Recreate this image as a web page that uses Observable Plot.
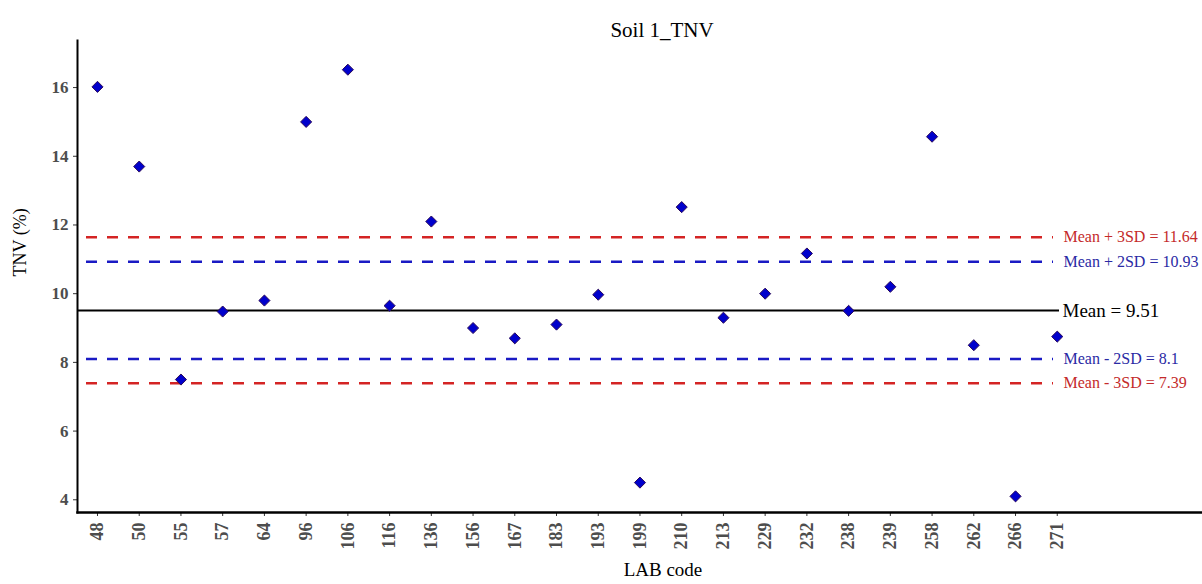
<!DOCTYPE html>
<html><head><meta charset="utf-8">
<script src="https://cdn.jsdelivr.net/npm/d3@7"></script>
<script src="https://cdn.jsdelivr.net/npm/@observablehq/plot@0.6"></script>
<style>body{margin:0;background:#fff;} svg{display:block}</style>
</head><body><div id="chart"></div>
<script>
const labCodes = ["48","50","55","57","64","96","106","116","136","156","167","183","193","199","210","213","229","232","238","239","258","262","266","271"];
const tnvValues = [16.02,13.7,7.5,9.48,9.8,15.0,16.52,9.65,12.1,9.0,8.7,9.1,9.97,4.5,12.52,9.3,10.0,11.17,9.5,10.2,14.57,8.5,4.1,8.75];
const refNames = ["Mean + 3SD = 11.64","Mean + 2SD = 10.93","Mean = 9.51","Mean - 2SD = 8.1","Mean - 3SD = 7.39"];
const refValues = [11.64,10.93,9.51,8.1,7.39];
const refKinds = ["3sd","2sd","mean","2sd","3sd"];
const yTicks = [4,6,8,10,12,14,16];
const titleText = "Soil 1_TNV";
const xLabel = "LAB code";
const yLabel = "TNV (%)";

const points = labCodes.map((c, i) => ({code: c, value: tnvValues[i]}));
const refs = refNames.map((n, i) => ({name: n, value: refValues[i], kind: refKinds[i]}));
const lineColor = {"3sd": "#d42424", "2sd": "#1a1ac4", "mean": "#000000"};
const textColor = {"3sd": "#c42a2a", "2sd": "#2a2aa4", "mean": "#000000"};
const dashed = refs.filter(d => d.kind !== "mean");
const mean = refs.filter(d => d.kind === "mean");

const font = "Liberation Serif, Times New Roman, serif";

const chart = Plot.plot({
  width: 1202,
  height: 584,
  marginLeft: 77,
  marginRight: 0,
  marginTop: 40,
  marginBottom: 72,
  style: {fontFamily: font, fontSize: "16px", background: "#fff", color: "#000"},
  x: {type: "point", domain: labCodes, padding: 1.98, align: 0.121, round: false, label: null},
  y: {domain: [3.63, 17.37], label: null},
  marks: [
    Plot.ruleY(dashed, {y: "value", stroke: d => lineColor[d.kind], strokeWidth: 2.5, strokeDasharray: "11,10", insetLeft: 9, insetRight: 149}),
    Plot.ruleY(mean, {y: "value", stroke: "#000", strokeWidth: 2, insetRight: 143}),
    Plot.dot(points, {x: "code", y: "value", symbol: "diamond2", r: 5, fill: "#0000cc", stroke: "#2a0a5a", strokeWidth: 1}),
    Plot.text(dashed, {y: "value", text: "name", frameAnchor: "right", textAnchor: "start", dx: -139, fill: d => textColor[d.kind], fontSize: 16}),
    Plot.text(mean, {y: "value", text: "name", frameAnchor: "right", textAnchor: "start", dx: -140, fill: "#000", fontSize: 19}),
    Plot.axisX({tickRotate: -90, tickSize: 4, tickPadding: 6, fontWeight: "bold", fontSize: 18, fill: "#4d4d4d", stroke: "#333", label: null}),
    Plot.axisY({ticks: yTicks, tickSize: 4, tickPadding: 5, fontWeight: "bold", fontSize: 17, fill: "#4d4d4d", stroke: "#333", label: null}),
    Plot.frame({anchor: "left", stroke: "#000", strokeWidth: 2}),
    Plot.frame({anchor: "bottom", stroke: "#000", strokeWidth: 2.5}),
    Plot.text([titleText], {frameAnchor: "top", dy: -18, dx: 22, fontSize: 21, fill: "#000"}),
    Plot.text([xLabel], {frameAnchor: "bottom", dy: 63, dx: 23, fontSize: 19, fill: "#000"}),
    Plot.text([yLabel], {frameAnchor: "left", dx: -57, rotate: -90, fontSize: 18, fill: "#000"})
  ]
});
document.getElementById("chart").appendChild(chart);
</script>
</body></html>
